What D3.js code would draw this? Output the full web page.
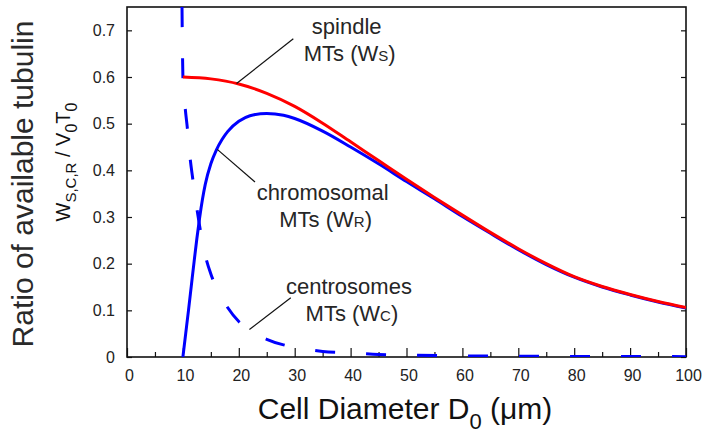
<!DOCTYPE html>
<html>
<head>
<meta charset="utf-8">
<script src="https://cdn.jsdelivr.net/npm/d3@7"></script>
<style>
  body { margin: 0; background: #fff; }
  svg { font-family: "Liberation Sans", Arial, Helvetica, sans-serif; }
  .tick text { fill: #222; font-size: 16px; }
</style>
</head>
<body>
<svg id="chart" width="709" height="436"></svg>
<script>
// values: [diameter (um), ratio]
const spindle = [[10, 0.600], [15, 0.596], [20, 0.585], [25, 0.565], [30, 0.537], [35, 0.501],
    [40, 0.461], [45, 0.421], [50, 0.381], [55, 0.342], [60, 0.304], [65, 0.267], [70, 0.232],
    [75, 0.200], [80, 0.172], [85, 0.151], [90, 0.134], [95, 0.119], [100, 0.106]];
const chromosomal = [[10, 0], [10.5, 0.05], [11, 0.10], [11.5, 0.152], [12, 0.204], [12.5, 0.254],
    [13, 0.299], [13.5, 0.338], [14, 0.370], [15, 0.414], [16, 0.444], [17, 0.466], [18, 0.483],
    [20, 0.505], [22, 0.517], [25, 0.522], [28, 0.518], [30, 0.511], [35, 0.484], [40, 0.450],
    [45, 0.414], [50, 0.376], [55, 0.339], [60, 0.301], [65, 0.265], [70, 0.230], [75, 0.198],
    [80, 0.171], [85, 0.150], [90, 0.133], [95, 0.118], [100, 0.105]];
const centrosomes = [[9.84, 0.75], [9.88, 0.70], [9.93, 0.65], [10, 0.60], [10.4, 0.535],
    [10.8, 0.49], [11.3, 0.425], [11.75, 0.383], [12.5, 0.318], [13, 0.28], [14, 0.218],
    [15, 0.178], [16, 0.148], [18, 0.106], [20, 0.076], [22, 0.058], [25, 0.038], [28, 0.026],
    [30, 0.021], [35, 0.012], [40, 0.009], [45, 0.0055], [50, 0.004], [60, 0.0025],
    [70, 0.0018], [80, 0.0013], [90, 0.001], [100, 0.0008]];

const xTicks = [0, 10, 20, 30, 40, 50, 60, 70, 80, 90, 100];
const xMinorTicks = [5, 15, 25, 35, 45, 55, 65, 75, 85, 95];
const yTicks = [0, 0.1, 0.2, 0.3, 0.4, 0.5, 0.6, 0.7];

// annotation text and leader lines, in data units
const labels = [
    { lines: ['spindle', 'MTs (W', 'S', ')'], at: [39.3, 0.693], leader: [[19.6, 0.586], [29.75, 0.682]] },
    { lines: ['chromosomal', 'MTs (W', 'R', ')'], at: [35.0, 0.336], leader: [[16.15, 0.445], [22.9, 0.375]] },
    { lines: ['centrosomes', 'MTs (W', 'C', ')'], at: [39.7, 0.136], leader: [[21.9, 0.059], [29.3, 0.127]] }
];

const margin = { top: 7, right: 23, left: 127, bottom: 79 };
const width = 709 - margin.left - margin.right;
const height = 436 - margin.top - margin.bottom;

const svg = d3.select('#chart');
const g = svg.append('g')
    .attr('transform', `translate(${margin.left}, ${margin.top})`);

const xScale = d3.scaleLinear().domain([0, 100]).range([0, width]);
const yScale = d3.scaleLinear().domain([0, 0.75]).range([height, 0]);

svg.append('defs').append('clipPath').attr('id', 'plot-clip')
    .append('rect').attr('width', width).attr('height', height);

// axes, ticks inward
const xAxis = d3.axisBottom(xScale).tickValues(xTicks).tickSize(-9).tickPadding(13);
const xMinor = d3.axisBottom(xScale).tickValues(xMinorTicks).tickSize(-5).tickFormat('');
const yAxis = d3.axisLeft(yScale).tickValues(yTicks).tickSize(-5).tickPadding(12)
    .tickFormat(d => d === 0 ? '0' : d3.format('.1f')(d));
const yRight = d3.axisRight(yScale).tickValues(yTicks).tickSize(-5).tickFormat('');

g.append('g').attr('class', 'xAxis').attr('transform', `translate(0,${height})`).call(xAxis);
g.append('g').attr('class', 'xMinor').attr('transform', `translate(0,${height})`).call(xMinor);
g.append('g').attr('class', 'yAxis').call(yAxis);
g.append('g').attr('class', 'yRight').attr('transform', `translate(${width},0)`).call(yRight);

g.selectAll('.domain').remove();
g.selectAll('.tick line').attr('stroke', '#111').attr('stroke-width', 1.2);
g.selectAll('.xAxis .tick text').attr('dx', 2);

g.append('rect')
    .attr('width', width).attr('height', height)
    .attr('fill', 'none').attr('stroke', '#111').attr('stroke-width', 1.6);

// curves
const line = d3.line()
    .x(d => xScale(d[0]))
    .y(d => yScale(d[1]))
    .curve(d3.curveMonotoneX);

const curves = g.append('g').attr('clip-path', 'url(#plot-clip)');
curves.append('path').datum(centrosomes)
    .attr('d', line).attr('fill', 'none').attr('stroke', '#0000ff')
    .attr('stroke-width', 3).attr('stroke-dasharray', '20,31');
curves.append('path').datum(chromosomal)
    .attr('d', line).attr('fill', 'none').attr('stroke', '#0000ff').attr('stroke-width', 3);
curves.append('path').datum(spindle)
    .attr('d', line).attr('fill', 'none').attr('stroke', '#ff0000').attr('stroke-width', 3);

// annotations
labels.forEach(l => {
    g.append('line')
        .attr('x1', xScale(l.leader[0][0])).attr('y1', yScale(l.leader[0][1]))
        .attr('x2', xScale(l.leader[1][0])).attr('y2', yScale(l.leader[1][1]))
        .attr('stroke', '#111').attr('stroke-width', 1.2);
    g.append('text')
        .attr('x', xScale(l.at[0])).attr('y', yScale(l.at[1]))
        .attr('text-anchor', 'middle').attr('fill', '#262626').style('font-size', '22px')
        .text(l.lines[0]);
    const t2 = g.append('text')
        .attr('x', xScale(l.at[0]) + 3).attr('y', yScale(l.at[1]) + 27)
        .attr('text-anchor', 'middle').attr('fill', '#262626').style('font-size', '22px');
    t2.append('tspan').text(l.lines[1]);
    t2.append('tspan').style('font-size', '15px').text(l.lines[2]);
    t2.append('tspan').text(l.lines[3]);
});

// axis titles
const xt = svg.append('text')
    .attr('x', 405).attr('y', 419)
    .attr('text-anchor', 'middle').attr('fill', '#111').style('font-size', '30px');
xt.append('tspan').text('Cell Diameter D');
xt.append('tspan').attr('dy', 10).style('font-size', '22px').text('0');
xt.append('tspan').attr('dy', -10).text(' (μm)');

svg.append('text')
    .attr('transform', 'translate(33,184) rotate(-90)')
    .attr('text-anchor', 'middle').attr('fill', '#2a2a2a').style('font-size', '30px')
    .text('Ratio of available tubulin');

const yt = svg.append('text')
    .attr('transform', 'translate(70,162) rotate(-90)')
    .attr('text-anchor', 'middle').attr('fill', '#111').style('font-size', '20px');
yt.append('tspan').text('W');
yt.append('tspan').attr('dy', 6).style('font-size', '15px').text('S,C,R');
yt.append('tspan').attr('dy', -6).text(' / V');
yt.append('tspan').attr('dy', 7).style('font-size', '16px').text('0');
yt.append('tspan').attr('dy', -7).text('T');
yt.append('tspan').attr('dy', 7).style('font-size', '16px').text('0');
</script>
</body>
</html>
